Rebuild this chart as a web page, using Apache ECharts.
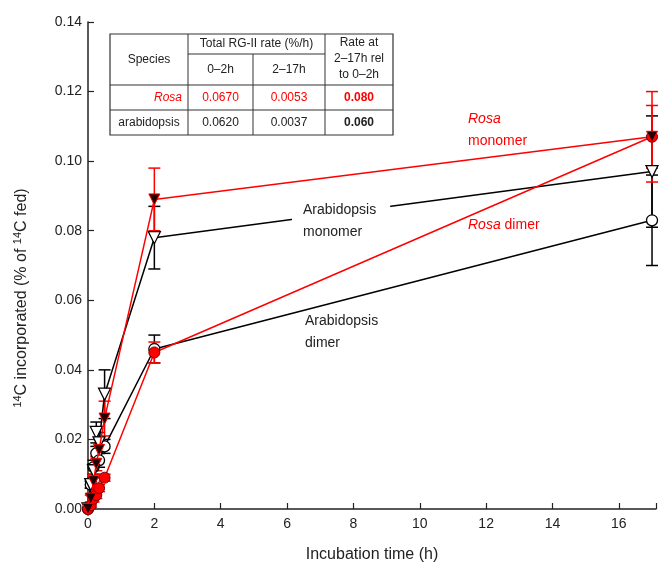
<!DOCTYPE html>
<html>
<head>
<meta charset="utf-8">
<script src="https://cdn.jsdelivr.net/npm/echarts@6/dist/echarts.min.js"></script>
<style>
  html, body { margin: 0; padding: 0; background: #fff; }
  #main { width: 659px; height: 570px; }
</style>
</head>
<body>
<div id="main"></div>
<script>
// time points (h)
var times = [0, 0.083, 0.167, 0.25, 0.333, 0.5, 2, 17];
// Rosa monomer / dimer
var rosaMono = [0, 0.003, 0.008, 0.013, 0.017, 0.026, 0.089, 0.107];
var rosaMonoErr = [0, 0.001, 0.002, 0.002, 0.003, 0.005, 0.009, 0.013];
var rosaDimer = [0, 0.001, 0.003, 0.004, 0.006, 0.009, 0.045, 0.107];
var rosaDimerErr = [0, 0.0005, 0.001, 0.001, 0.001, 0.001, 0.003, 0.009];
// Arabidopsis monomer / dimer
var arabMono = [0, 0.007, 0.011, 0.022, 0.019, 0.033, 0.078, 0.097];
var arabMonoErr = [0, 0.001, 0.002, 0.003, 0.003, 0.007, 0.009, 0.016];
var arabDimer = [0, 0.007, 0.012, 0.016, 0.014, 0.018, 0.046, 0.083];
var arabDimerErr = [0, 0.001, 0.002, 0.002, 0.002, 0.002, 0.004, 0.013];
// inset table
var tableHead = ['Species', 'Total RG-II rate (%/h)', '0–2h', '2–17h', 'Rate at\n2–17h rel\nto 0–2h'];
var tableRows = [
  ['Rosa', '0.0670', '0.0053', '0.080'],
  ['arabidopsis', '0.0620', '0.0037', '0.060']
];

var RED = '#ff0000';
var FONT = 'Arial, "Liberation Sans", sans-serif';

function pairs(ys) {
  return times.map(function (t, i) { return [t, ys[i]]; });
}
function triples(ys, es) {
  return times.map(function (t, i) { return [t, ys[i], es[i]]; });
}

// error bars with caps
function errBars(color) {
  return function (params, api) {
    var x = api.value(0), y = api.value(1), e = api.value(2);
    if (!e) return;
    var top = api.coord([x, y + e]);
    var bot = api.coord([x, y - e]);
    var w = 6;
    var st = { stroke: color, lineWidth: 1.5 };
    return {
      type: 'group',
      children: [
        { type: 'line', shape: { x1: top[0], y1: top[1], x2: bot[0], y2: bot[1] }, style: st },
        { type: 'line', shape: { x1: top[0] - w, y1: top[1], x2: top[0] + w, y2: top[1] }, style: st },
        { type: 'line', shape: { x1: bot[0] - w, y1: bot[1], x2: bot[0] + w, y2: bot[1] }, style: st }
      ]
    };
  };
}

function errSeries(ys, es, color) {
  return {
    type: 'custom',
    renderItem: errBars(color),
    data: triples(ys, es),
    encode: { x: 0, y: 1 },
    z: 1,
    silent: true
  };
}

var myChart = echarts.init(document.getElementById('main'));

// table graphic
var tx = [110, 188, 253, 325, 393];
var ty = [34, 85, 110, 135];
var tbl = [];
tbl.push({ type: 'rect', shape: { x: tx[0], y: ty[0], width: tx[4] - tx[0], height: ty[3] - ty[0] },
  style: { fill: '#fff', stroke: '#333', lineWidth: 1.2 } });
[1, 2].forEach(function (i) {
  tbl.push({ type: 'line', shape: { x1: tx[0], y1: ty[i], x2: tx[4], y2: ty[i] }, style: { stroke: '#333', lineWidth: 1.2 } });
});
tbl.push({ type: 'line', shape: { x1: tx[1], y1: 54, x2: tx[3], y2: 54 }, style: { stroke: '#333', lineWidth: 1 } });
[1, 3].forEach(function (i) {
  tbl.push({ type: 'line', shape: { x1: tx[i], y1: ty[0], x2: tx[i], y2: ty[3] }, style: { stroke: '#333', lineWidth: 1 } });
});
tbl.push({ type: 'line', shape: { x1: tx[2], y1: 54, x2: tx[2], y2: ty[3] }, style: { stroke: '#333', lineWidth: 1 } });

function cellText(x, y, text, opt) {
  opt = opt || {};
  return {
    type: 'text', x: x, y: y,
    style: {
      text: text,
      font: (opt.italic ? 'italic ' : '') + (opt.bold ? 'bold ' : '') + '12px ' + FONT,
      fill: opt.color || '#222',
      align: opt.align || 'center',
      verticalAlign: 'middle',
      lineHeight: 16
    }
  };
}
tbl.push(cellText((tx[0] + tx[1]) / 2, 60, tableHead[0]));
tbl.push(cellText((tx[1] + tx[3]) / 2, 44, tableHead[1]));
tbl.push(cellText((tx[1] + tx[2]) / 2, 70, tableHead[2]));
tbl.push(cellText((tx[2] + tx[3]) / 2, 70, tableHead[3]));
tbl.push(cellText((tx[3] + tx[4]) / 2, 59, tableHead[4]));
tableRows.forEach(function (row, r) {
  var yc = (ty[r + 1] + ty[r + 2]) / 2;
  var col = r === 0 ? RED : '#222';
  if (r === 0) tbl.push(cellText(tx[1] - 6, yc, row[0], { italic: true, color: col, align: 'right' }));
  else tbl.push(cellText((tx[0] + tx[1]) / 2, yc, row[0], { color: col }));
  tbl.push(cellText((tx[1] + tx[2]) / 2, yc, row[1], { color: col }));
  tbl.push(cellText((tx[2] + tx[3]) / 2, yc, row[2], { color: col }));
  tbl.push(cellText((tx[3] + tx[4]) / 2, yc, row[3], { color: col, bold: true }));
});

// series labels
var labels = [
  { type: 'text', x: 468, y: 130, z: 100,
    style: { text: '{i|Rosa}\nmonomer', fill: RED, font: '14px ' + FONT, lineHeight: 22, align: 'left', verticalAlign: 'middle',
      rich: { i: { fontStyle: 'italic', fontSize: 14, fontFamily: FONT, fill: RED, lineHeight: 22 } } } },
  { type: 'text', x: 468, y: 225, z: 100,
    style: { text: '{i|Rosa} dimer', fill: RED, font: '14px ' + FONT, align: 'left', verticalAlign: 'middle',
      rich: { i: { fontStyle: 'italic', fontSize: 14, fontFamily: FONT, fill: RED } } } },
  { type: 'text', x: 292, y: 221, z: 100,
    style: { text: 'Arabidopsis\nmonomer', fill: '#222', font: '14px ' + FONT, lineHeight: 22, align: 'left', verticalAlign: 'middle',
      backgroundColor: '#fff', padding: [1, 14, 1, 11] } },
  { type: 'text', x: 305, y: 332, z: 100,
    style: { text: 'Arabidopsis\ndimer', fill: '#222', font: '14px ' + FONT, lineHeight: 22, align: 'left', verticalAlign: 'middle' } },
  { type: 'text', x: 22, y: 298, rotation: Math.PI / 2, z: 100,
    style: { text: '{s|14}C incorporated (% of {s|14}C fed)', fill: '#222', font: '16px ' + FONT, align: 'center', verticalAlign: 'middle',
      rich: { s: { fontSize: 11, fontFamily: FONT, fill: '#222', padding: [0, 0, 9, 0] } } } }
];

var option = {
  animation: false,
  backgroundColor: '#fff',
  grid: { left: 88, right: 0, top: 22, bottom: 61, containLabel: false },
  xAxis: {
    type: 'value', min: 0, max: 17.12, interval: 2,
    name: 'Incubation time (h)', nameLocation: 'middle', nameGap: 38,
    nameTextStyle: { fontSize: 16, color: '#222', fontFamily: FONT },
    axisLine: { lineStyle: { color: '#222', width: 1.5 } },
    axisTick: { inside: true, length: 6, lineStyle: { color: '#222', width: 1.2 } },
    axisLabel: { fontSize: 14, color: '#222', fontFamily: FONT, margin: 8,
      formatter: function (v) { return v % 2 === 0 ? String(v) : ''; } },
    splitLine: { show: false }
  },
  yAxis: {
    type: 'value', min: 0, max: 0.14, interval: 0.02,
    axisLine: { show: true, lineStyle: { color: '#222', width: 1.5 } },
    axisTick: { show: true, inside: true, length: 6, lineStyle: { color: '#222', width: 1.2 } },
    axisLabel: { fontSize: 14, color: '#222', fontFamily: FONT, margin: 6,
      formatter: function (v) { return v.toFixed(2); } },
    splitLine: { show: false }
  },
  graphic: tbl.concat(labels),
  series: [
    errSeries(arabDimer, arabDimerErr, '#000'),
    errSeries(arabMono, arabMonoErr, '#000'),
    errSeries(rosaDimer, rosaDimerErr, RED),
    errSeries(rosaMono, rosaMonoErr, RED),
    {
      name: 'Arabidopsis dimer', type: 'line', data: pairs(arabDimer),
      symbol: 'circle', symbolSize: 11, z: 3,
      lineStyle: { color: '#000', width: 1.5 },
      itemStyle: { color: '#fff', borderColor: '#000', borderWidth: 1.3 }
    },
    {
      name: 'Arabidopsis monomer', type: 'line', data: pairs(arabMono),
      symbol: 'triangle', symbolRotate: 180, symbolSize: 12, z: 3,
      lineStyle: { color: '#000', width: 1.5 },
      itemStyle: { color: '#fff', borderColor: '#000', borderWidth: 1.3 }
    },
    {
      name: 'Rosa dimer', type: 'line', data: pairs(rosaDimer),
      symbol: 'circle', symbolSize: 11, z: 4,
      lineStyle: { color: RED, width: 1.5 },
      itemStyle: { color: RED, borderColor: '#700', borderWidth: 1 }
    },
    {
      name: 'Rosa monomer', type: 'line', data: pairs(rosaMono),
      symbol: 'triangle', symbolRotate: 180, symbolSize: 11, z: 4,
      lineStyle: { color: RED, width: 1.5 },
      itemStyle: { color: '#200', borderColor: RED, borderWidth: 1 }
    }
  ]
};

myChart.setOption(option);
</script>
</body>
</html>
